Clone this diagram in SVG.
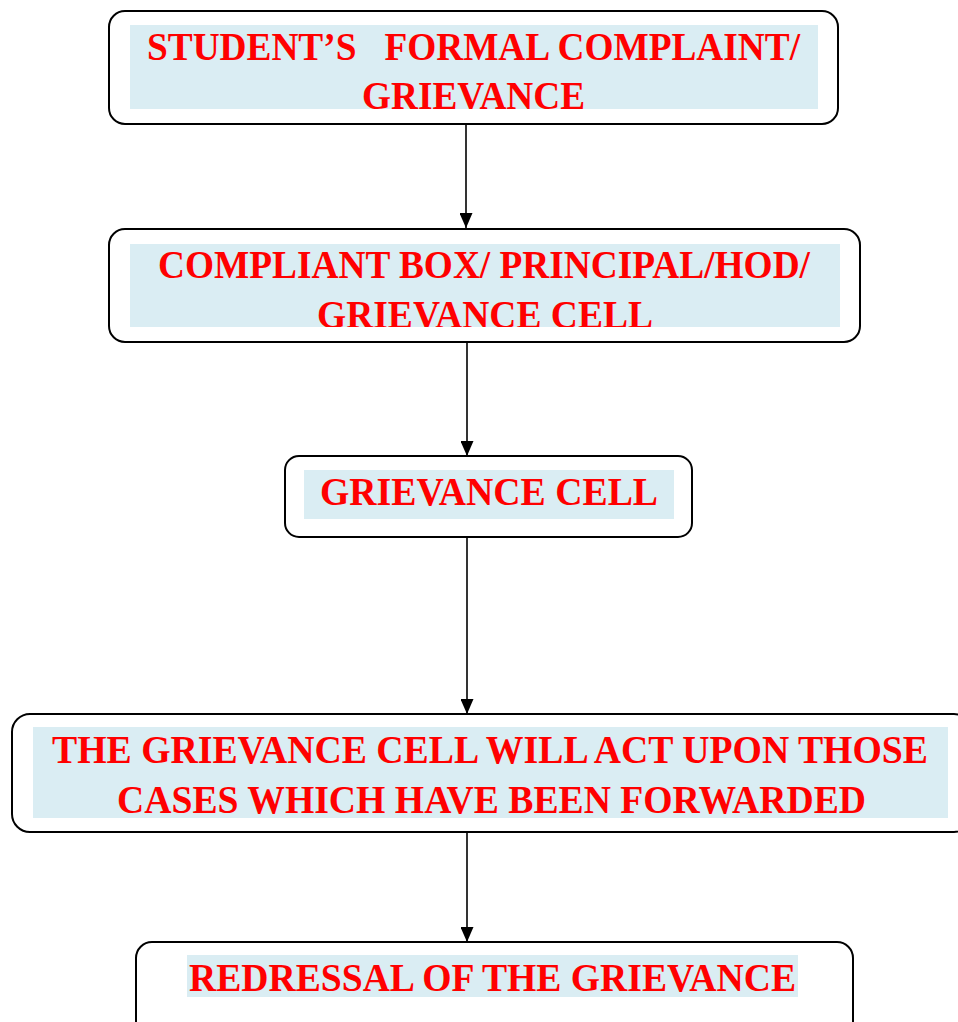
<svg xmlns="http://www.w3.org/2000/svg" width="958" height="1022" viewBox="0 0 958 1022">
<style>
.box{fill:#fff;stroke:#000;stroke-width:2}
.bg{fill:#daedf3}
.t{font-family:"Liberation Serif","Times New Roman",serif;font-weight:bold;font-size:39px;fill:#ff0000}
.c{stroke:#000;stroke-width:1.6;fill:none}
</style>
<defs>
<marker id="ah" markerWidth="15" markerHeight="13" refX="15" refY="6.5" orient="auto" markerUnits="userSpaceOnUse" viewBox="0 0 15 13">
<path d="M0,0 L15,6.5 L0,13 Z" fill="#000"/>
</marker>
<clipPath id="c1"><rect x="130" y="25" width="688" height="84"/></clipPath>
<clipPath id="c2"><rect x="130" y="244" width="710" height="83"/></clipPath>
</defs>
<g id="connectors">
<line class="c" x1="466" y1="124" x2="466" y2="228" marker-end="url(#ah)"/>
<line class="c" x1="467" y1="342" x2="467" y2="456" marker-end="url(#ah)"/>
<line class="c" x1="467" y1="537" x2="467" y2="714" marker-end="url(#ah)"/>
<line class="c" x1="467" y1="832" x2="467" y2="942" marker-end="url(#ah)"/>
</g>
<g id="n1">
<rect class="box" x="109" y="11" width="729" height="113" rx="16"/>
<rect class="bg" x="130" y="25" width="688" height="84"/>
<g clip-path="url(#c1)">
<text class="t" x="147" y="60" textLength="653" lengthAdjust="spacingAndGlyphs" xml:space="preserve">STUDENT’S   FORMAL COMPLAINT/</text>
<text class="t" x="362" y="109" textLength="223" lengthAdjust="spacingAndGlyphs">GRIEVANCE</text>
</g>
</g>
<g id="n2">
<rect class="box" x="109" y="229" width="751" height="113" rx="16"/>
<rect class="bg" x="130" y="244" width="710" height="83"/>
<g clip-path="url(#c2)">
<text class="t" x="158" y="278" textLength="652" lengthAdjust="spacingAndGlyphs">COMPLIANT BOX/ PRINCIPAL/HOD/</text>
<text class="t" x="317" y="328" textLength="336" lengthAdjust="spacingAndGlyphs">GRIEVANCE CELL</text>
</g>
</g>
<g id="n3">
<rect class="box" x="285" y="456" width="407" height="81" rx="14"/>
<rect class="bg" x="304" y="470" width="370" height="49"/>
<text class="t" x="320" y="505" textLength="338" lengthAdjust="spacingAndGlyphs">GRIEVANCE CELL</text>
</g>
<g id="n4">
<rect class="box" x="12" y="714" width="960" height="118" rx="18"/>
<rect class="bg" x="33" y="727" width="915" height="91"/>
<text class="t" x="52" y="763" textLength="876" lengthAdjust="spacingAndGlyphs">THE GRIEVANCE CELL WILL ACT UPON THOSE</text>
<text class="t" x="117" y="813" textLength="749" lengthAdjust="spacingAndGlyphs">CASES WHICH HAVE BEEN FORWARDED</text>
</g>
<g id="n5">
<rect class="box" x="136" y="942" width="717" height="100" rx="16"/>
<rect class="bg" x="187" y="955" width="611" height="42"/>
<text class="t" x="189" y="991" textLength="607" lengthAdjust="spacingAndGlyphs">REDRESSAL OF THE GRIEVANCE</text>
</g>
</svg>
